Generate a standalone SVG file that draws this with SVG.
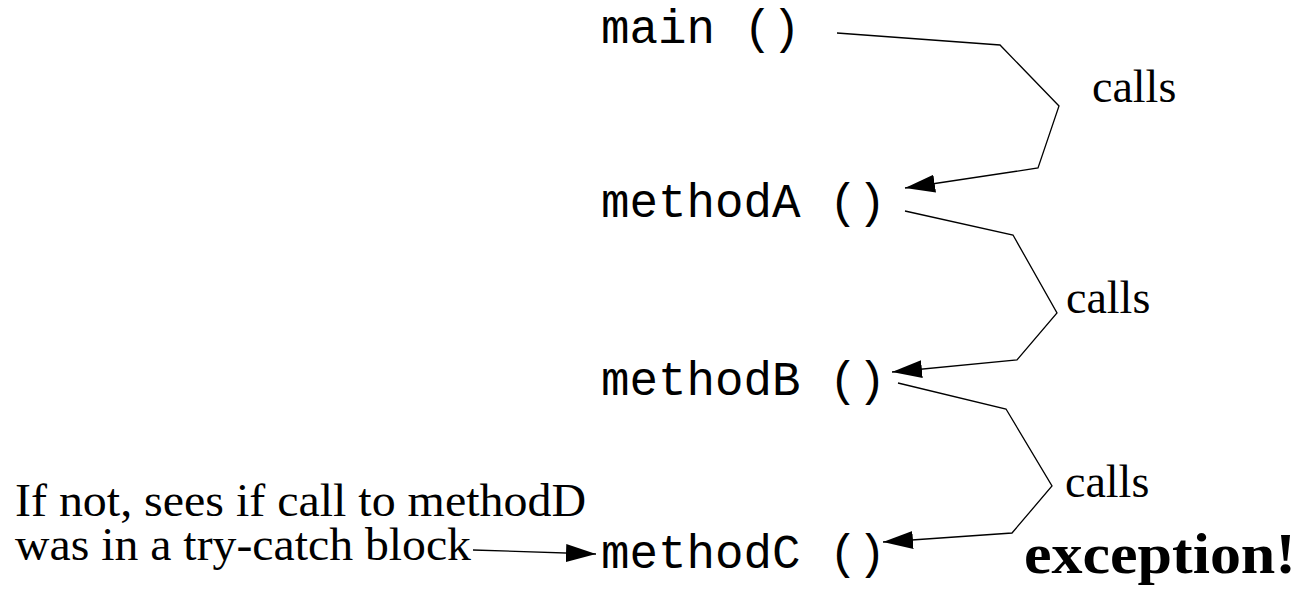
<svg xmlns="http://www.w3.org/2000/svg" width="1304" height="595" viewBox="0 0 1304 595">
<style>
.mono{font-family:"Liberation Mono","Courier New",monospace;font-size:47.5px;fill:#000}
.serif{font-family:"Liberation Serif","Times New Roman",serif;font-size:46px;fill:#000}
.bold{font-family:"Liberation Serif","Times New Roman",serif;font-size:57px;font-weight:bold;fill:#000}
.conn{fill:none;stroke:#000;stroke-width:1.3}
</style>
<defs>
<marker id="arr" markerUnits="userSpaceOnUse" markerWidth="32" markerHeight="20" refX="30" refY="9" orient="auto">
<path d="M0,0 L30,9 L0,18 Z" fill="#000"/>
</marker>
</defs>
<rect width="1304" height="595" fill="#fff"/>
<g id="main"><text class="mono" x="601" y="43">main ()</text></g>
<g id="methodA"><text class="mono" x="601" y="217">methodA ()</text></g>
<g id="methodB"><text class="mono" x="601" y="395">methodB ()</text></g>
<g id="methodC"><text class="mono" x="601" y="568">methodC ()</text></g>
<g id="note"><text class="serif" x="15" y="516" textLength="571" lengthAdjust="spacingAndGlyphs">If not, sees if call to methodD</text><text class="serif" x="15" y="560" textLength="456" lengthAdjust="spacingAndGlyphs">was in a try-catch block</text></g>
<g id="exception"><text class="bold" x="1024" y="573" textLength="272" lengthAdjust="spacingAndGlyphs">exception!</text></g>
<g id="labels">
<text class="serif" x="1092" y="102">calls</text>
<text class="serif" x="1066" y="313">calls</text>
<text class="serif" x="1065" y="497">calls</text>
</g>
<g id="connectors">
<polyline class="conn" points="837,33 1000,45 1059,106 1038,168 905,188" marker-end="url(#arr)"/>
<polyline class="conn" points="905,211 1013,235 1057,313 1017,360 892,372" marker-end="url(#arr)"/>
<polyline class="conn" points="898,383 1006,409 1052,486 1012,533 883,542" marker-end="url(#arr)"/>
<polyline class="conn" points="473,550 596,554" marker-end="url(#arr)"/>
</g>
</svg>
